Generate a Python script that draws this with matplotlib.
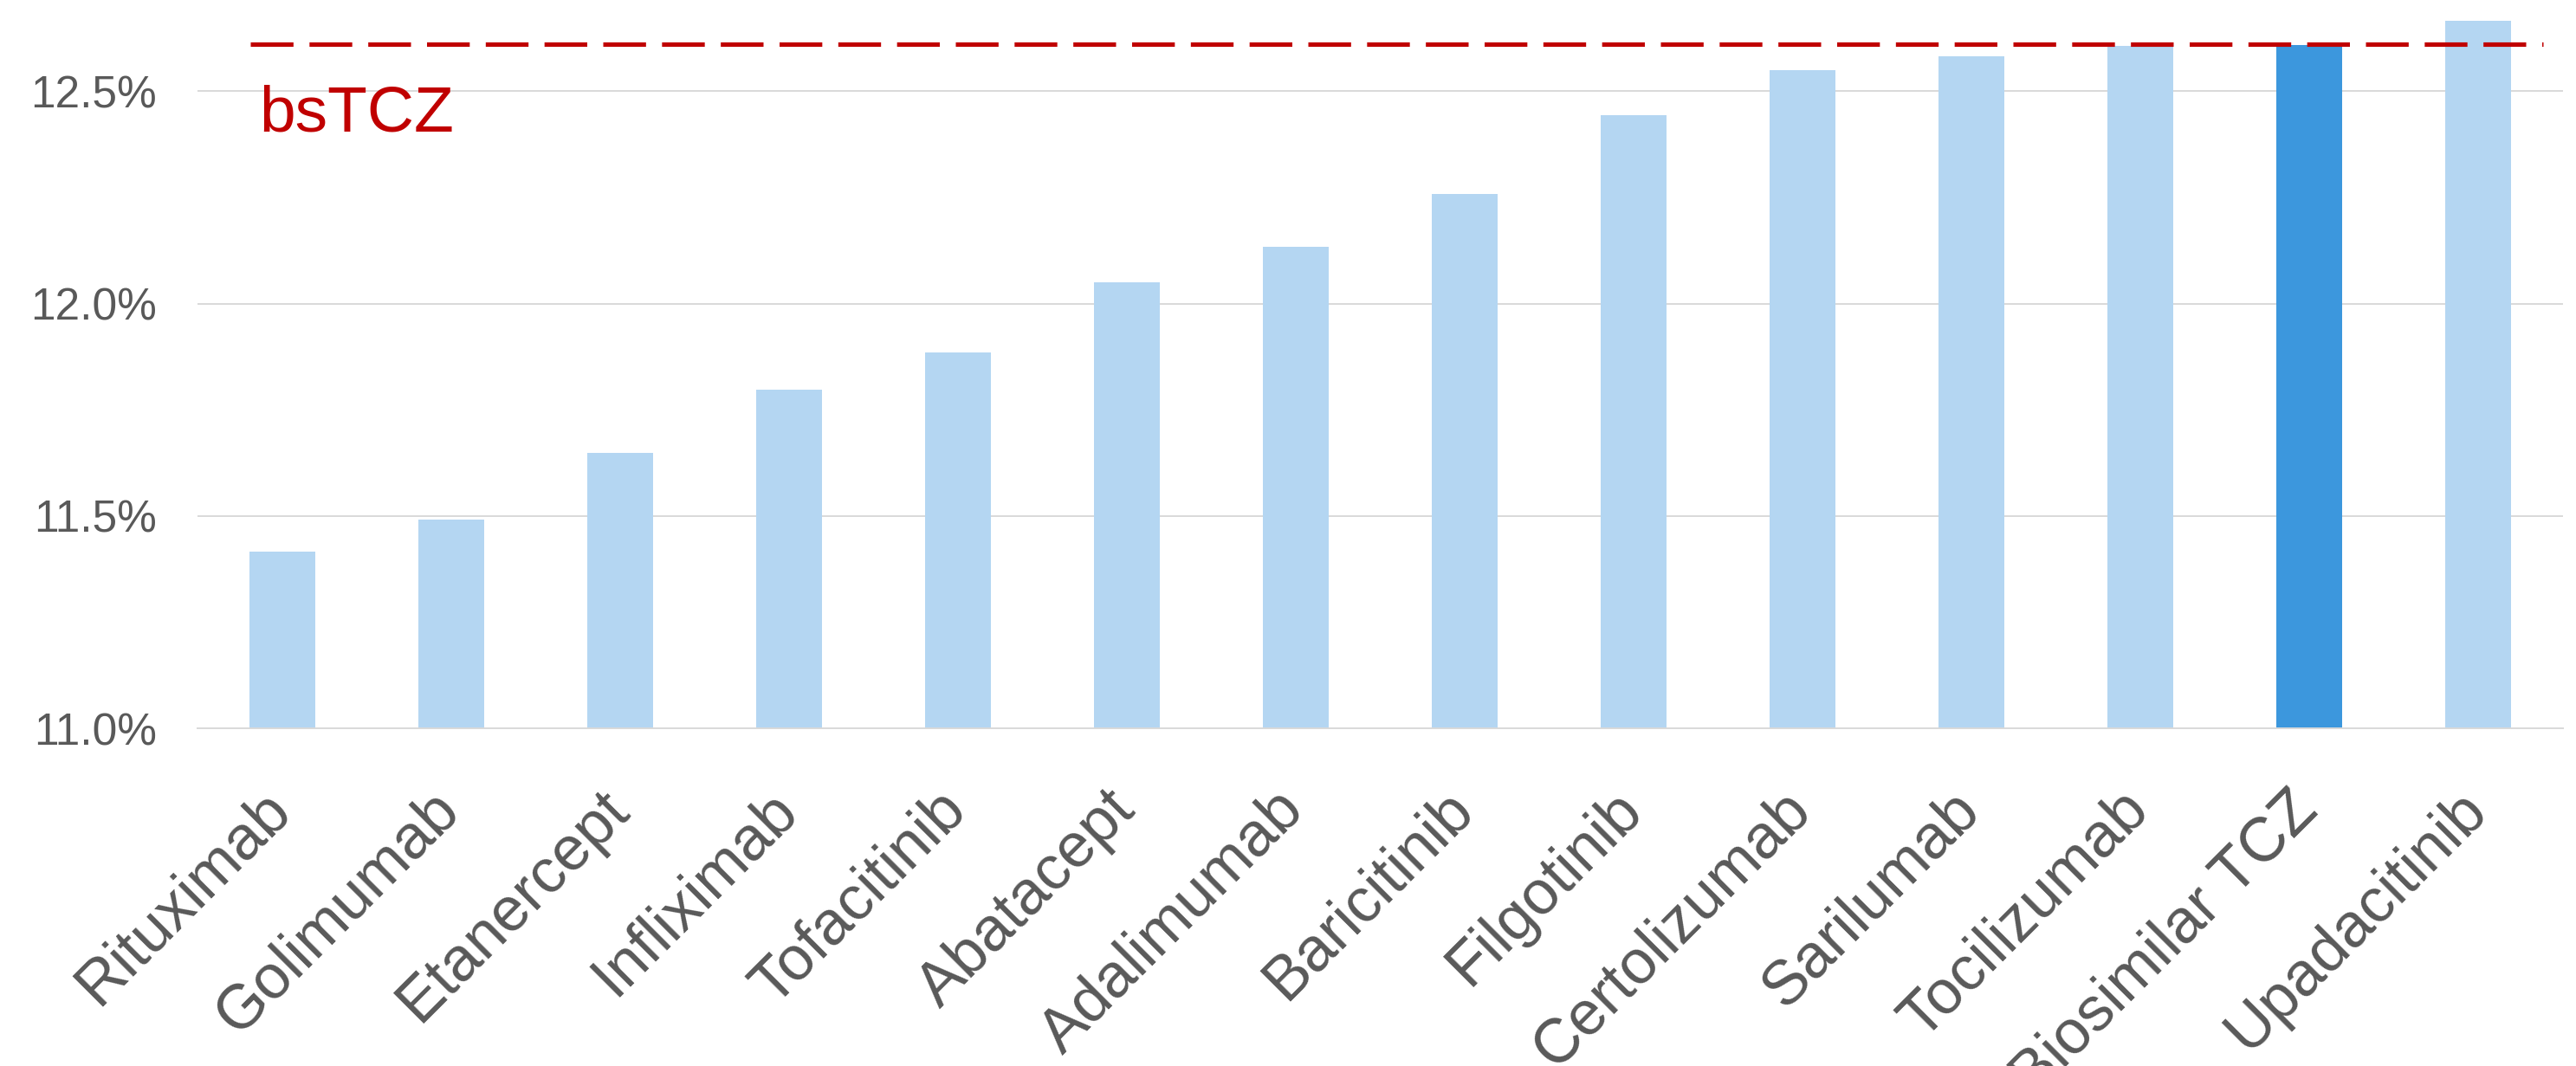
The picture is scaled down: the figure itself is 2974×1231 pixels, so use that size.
import matplotlib
matplotlib.use("Agg")
import matplotlib.pyplot as plt
import matplotlib.transforms as mtransforms
from matplotlib.ticker import FuncFormatter, MultipleLocator

drugs = ["Rituximab", "Golimumab", "Etanercept", "Infliximab", "Tofacitinib",
         "Abatacept", "Adalimumab", "Baricitinib", "Filgotinib", "Certolizumab",
         "Sarilumab", "Tocilizumab", "Biosimilar TCZ", "Upadacitinib"]
rates = [11.417, 11.492, 11.648, 11.798, 11.886, 12.050, 12.133,
         12.259, 12.443, 12.550, 12.583, 12.606, 12.608, 12.666]
highlight = "Biosimilar TCZ"
bstcz_rate = 12.611

plt.rcParams['font.family'] = ['Liberation Sans', 'DejaVu Sans']
grey = '#595959'

fig = plt.figure(figsize=(29.74, 12.31), dpi=100)
ax = fig.add_axes([0.0768, 0.3166, 0.9180, 0.6834])

x = range(len(drugs))
colors = ['#3C97DD' if d == highlight else '#B4D6F2' for d in drugs]
ax.bar(x, rates, width=0.39, color=colors, zorder=2)

# reference line for the biosimilar
ax.plot([-0.19, 13.384], [bstcz_rate, bstcz_rate], color='#C00000', lw=3.7,
        dashes=(9.6, 3.6), solid_capstyle='butt', dash_capstyle='butt', zorder=3)
ax.text(-0.135, 12.405, "bsTCZ", color='#C00000', fontsize=54, ha='left', va='baseline')

ax.set_xlim(-0.5, len(drugs) - 0.5)
ax.set_ylim(11.0, 12.7146)
ax.yaxis.set_major_locator(MultipleLocator(0.5))
ax.yaxis.set_major_formatter(FuncFormatter(lambda v, p: f"{v:.1f}%"))
ax.grid(axis='y', color='#D9D9D9', lw=1.4)
ax.set_axisbelow(True)

for s in ['top', 'right', 'left']:
    ax.spines[s].set_visible(False)
ax.spines['bottom'].set_color('#D9D9D9')
ax.spines['bottom'].set_linewidth(1.4)

ax.tick_params(axis='y', length=0, pad=34, labelsize=37, labelcolor=grey)
ax.tick_params(axis='x', length=0, pad=69.5, labelsize=51.5, labelcolor=grey)
ax.set_xticks(list(x))
ax.set_xticklabels(drugs, rotation=45, ha='right', va='baseline', rotation_mode='anchor')
shift = mtransforms.ScaledTranslation(0.12, 0, fig.dpi_scale_trans)
for lab in ax.get_xticklabels():
    lab.set_transform(lab.get_transform() + shift)

fig.savefig('out.png', dpi=100)
